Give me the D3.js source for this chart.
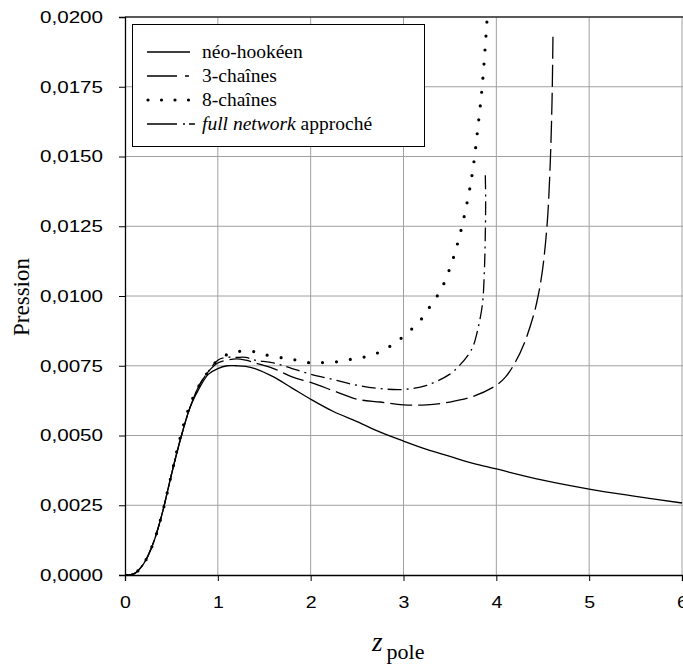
<!DOCTYPE html>
<html><head><meta charset="utf-8">
<script src="https://cdn.jsdelivr.net/npm/d3@7"></script>
<style>body{margin:0;background:#fff}svg{display:block}</style>
</head><body>
<svg id="c" width="683" height="671"></svg>
<script>
// ---- data ----
const xTicks = [0,1,2,3,4,5,6];
const yTicks = [0,0.0025,0.005,0.0075,0.01,0.0125,0.015,0.0175,0.02];
const seriesNames = ["néo-hookéen","3-chaînes","8-chaînes","full network approché"];

const neoZ = [0,0.1,0.2,0.3,0.4,0.5,0.6,0.7,0.8,0.9,1.0,1.1,1.2,1.3,1.4,1.6,1.8,2.0,2.25,2.5,2.75,3.0,3.25,3.5,3.75,4.0,4.5,5.0,5.5,6.0];
const neoP = [0,0.00005,0.0004,0.0011,0.0022,0.0036,0.0049,0.0060,0.0067,0.0072,0.0074,0.0075,0.0075,0.00748,0.0074,0.0071,0.0067,0.0063,0.00585,0.0055,0.00512,0.0048,0.0045,0.00425,0.0040,0.0038,0.0034,0.00308,0.00282,0.00258];

const threeZ = [0,0.1,0.2,0.3,0.4,0.5,0.6,0.7,0.8,0.9,1.0,1.1,1.2,1.3,1.4,1.6,1.8,2.0,2.25,2.5,2.75,3.0,3.25,3.5,3.75,4.0,4.1,4.2,4.3,4.4,4.45,4.5,4.55,4.58,4.6,4.61];
const threeP = [0,0.00005,0.0004,0.0011,0.0022,0.0036,0.0049,0.0060,0.0068,0.0073,0.0076,0.0077,0.00775,0.0077,0.0076,0.0074,0.0071,0.0069,0.0066,0.0063,0.0062,0.0061,0.0061,0.0062,0.0064,0.0068,0.0071,0.0076,0.0083,0.0093,0.0100,0.0110,0.0127,0.0147,0.0170,0.0193];

const eightZ = [0,0.1,0.2,0.3,0.4,0.5,0.6,0.7,0.8,0.9,1.0,1.1,1.2,1.35,1.5,1.7,1.85,2.0,2.15,2.3,2.45,2.6,2.75,2.9,3.05,3.2,3.3,3.4,3.5,3.6,3.7,3.75,3.8,3.85,3.9];
const eightP = [0,0.00005,0.0004,0.0011,0.0022,0.0036,0.0050,0.0061,0.0068,0.0073,0.0077,0.0079,0.0080,0.00803,0.0079,0.00778,0.0077,0.0076,0.00762,0.00765,0.00774,0.00783,0.0080,0.0083,0.0087,0.0092,0.0097,0.0102,0.0110,0.0121,0.0136,0.0146,0.0160,0.0176,0.0199];

const fullZ = [0,0.1,0.2,0.3,0.4,0.5,0.6,0.7,0.8,0.9,1.0,1.1,1.2,1.3,1.4,1.6,1.8,2.0,2.25,2.5,2.75,3.0,3.25,3.5,3.6,3.7,3.75,3.8,3.85,3.87,3.88,3.885,3.88];
const fullP = [0,0.00005,0.0004,0.0011,0.0022,0.0036,0.0049,0.0060,0.0068,0.0073,0.0077,0.0078,0.0078,0.0078,0.0077,0.0076,0.0074,0.0072,0.0070,0.0068,0.00668,0.00665,0.0068,0.0072,0.0075,0.0079,0.0082,0.0088,0.0097,0.0108,0.0120,0.0135,0.0145];

// ---- layout ----
const svg = d3.select("#c");
const L = 125, R = 682, T = 17, B = 575;
const x = d3.scaleLinear().domain([0,6]).range([L,R]);
const y = d3.scaleLinear().domain([0,0.02]).range([B,T]);
const loc = d3.formatLocale({decimal:",",thousands:" ",grouping:[3],currency:["",""]});
const fy = loc.format(".4f");

// grid
const g = svg.append("g");
g.selectAll("line.gx").data(xTicks.slice(1)).join("line")
  .attr("x1",d=>x(d)).attr("x2",d=>x(d)).attr("y1",T).attr("y2",B)
  .attr("stroke","#a0a0a0").attr("stroke-width",1);
g.selectAll("line.gy").data(yTicks.slice(1)).join("line")
  .attr("x1",L).attr("x2",683).attr("y1",d=>y(d)).attr("y2",d=>y(d))
  .attr("stroke","#a0a0a0").attr("stroke-width",1);
// top border
svg.append("line").attr("x1",L).attr("x2",683).attr("y1",T).attr("y2",T)
  .attr("stroke","#333").attr("stroke-width",1.3);

// axes
const ax = svg.append("g").attr("transform",`translate(0,${B})`)
  .call(d3.axisBottom(x).tickValues(xTicks).tickSize(6).tickPadding(15).tickFormat(d3.format("d")));
const ay = svg.append("g").attr("transform",`translate(${L},0)`)
  .call(d3.axisLeft(y).tickValues(yTicks).tickSize(6).tickPadding(16).tickFormat(fy));
[ax,ay].forEach(a=>{
  a.select(".domain").attr("stroke","#000").attr("stroke-width",1.3);
  a.selectAll(".tick line").attr("stroke","#000");
  a.selectAll("text").attr("font-family","'Liberation Sans', Arial, sans-serif").attr("font-size",17).attr("fill","#000");
});
ay.selectAll("text").attr("textLength",63).attr("lengthAdjust","spacingAndGlyphs");
ax.selectAll("text").attr("transform","scale(1.15,1)");

// curves
const line = d3.line().x(d=>x(d[0])).y(d=>y(d[1])).curve(d3.curveCatmullRom.alpha(0.5));
const zip = (a,b)=>a.map((v,i)=>[v,b[i]]);
const series = [
  {d:zip(neoZ,neoP), dash:null, w:1.3, cap:"butt"},
  {d:zip(threeZ,threeP), dash:"22,6", w:1.3, cap:"butt"},
  {d:zip(eightZ,eightP), dash:"0,14", w:3.2, cap:"round"},
  {d:zip(fullZ,fullP), dash:"14,5,2,5", w:1.3, cap:"butt"}
];
svg.append("clipPath").attr("id","pc").append("rect")
  .attr("x",L).attr("y",T-3).attr("width",R-L+5).attr("height",B-T+3);
svg.append("g").attr("clip-path","url(#pc)").selectAll("path").data(series).join("path")
  .attr("d",s=>line(s.d)).attr("fill","none").attr("stroke","#000")
  .attr("stroke-width",s=>s.w).attr("stroke-dasharray",s=>s.dash).attr("stroke-linecap",s=>s.cap);

// legend
const lg = svg.append("g");
lg.append("rect").attr("x",132.5).attr("y",24.5).attr("width",292).attr("height",122)
  .attr("fill","#fff").attr("stroke","#000").attr("stroke-width",1);
const legDash = [null,"30,8,4,100","0,13.5","30,6,2,4,6,100"];
seriesNames.forEach((n,i)=>{
  const yy = 52 + i*24;
  lg.append("line").attr("x1",i==2?148:147).attr("x2",i==1?194:(i==3?196:190)).attr("y1",yy).attr("y2",yy)
    .attr("stroke","#000").attr("stroke-width",i==2?3.2:1.3)
    .attr("stroke-dasharray",legDash[i]).attr("stroke-linecap",i==2?"round":"butt");
  const t = lg.append("text").attr("x",202).attr("y",yy+6)
    .attr("font-family","'Liberation Serif', 'Times New Roman', serif").attr("font-size",19.5);
  if(i==3){
    t.append("tspan").attr("font-style","italic").text("full network");
    t.append("tspan").text(" approché");
  } else t.text(n);
});

// axis titles
svg.append("text").attr("transform","translate(29,297) rotate(-90)").attr("text-anchor","middle")
  .attr("font-family","'Liberation Serif', 'Times New Roman', serif").attr("font-size",23).text("Pression");
const xt = svg.append("text").attr("x",372).attr("y",651)
  .attr("font-family","'Liberation Serif', 'Times New Roman', serif");
xt.append("tspan").attr("font-style","italic").attr("font-size",27).text("z");
xt.append("tspan").attr("font-size",22).attr("dy",8).attr("dx",4).text("pole");
</script>
</body></html>
